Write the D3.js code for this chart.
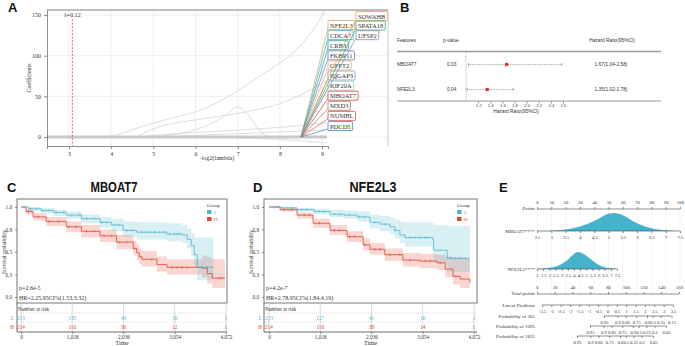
<!DOCTYPE html>
<html>
<head>
<meta charset="utf-8">
<script src="https://cdn.jsdelivr.net/npm/d3@7"></script>
<style>
body { margin: 0; background: #fff; }
svg { display: block; }
</style>
</head>
<body>
<svg id="fig" width="685" height="346"></svg>
<script>
// ---------- panel A: lasso paths ----------
const lassoXTicks = [3, 4, 5, 6, 7, 8, 9];
const lassoYTicks = [0, 50, 100, 150];
const lambdaX = 3.08;
const coefPath1 = [[4.0, 0], [4.5, 9], [5, 17], [5.5, 24], [6, 31], [6.5, 42], [7, 57], [7.5, 74], [8, 91], [8.5, 113], [9.1, 157]];
const coefPath2 = [[4.6, 0], [5, 10], [5.5, 17], [6, 21], [6.5, 25], [7, 29], [7.5, 34], [8, 41], [8.5, 52], [9.1, 68]];
const coefPath3 = [[5.0, 0], [5.5, 3], [6, 9], [6.4, 17], [6.7, 26], [7.0, 37], [7.2, 30], [7.4, 16], [7.6, 4], [7.8, 0]];
const coefPath4 = [[4.6, 0], [5.5, 4], [6.5, 7], [7.5, 10], [8.5, 14], [9.1, 18]];
const coefPath5 = [[5.0, 0], [6, 2], [7, 4], [8, 6], [9.1, 9]];
const coefPath6 = [[6.0, 0], [7, -1], [8, -3], [9.1, -7]];
const genesCol2 = ['SOWAHB', 'SPATA18', 'UFSP2'];
const genesCol1 = ['NFE2L3', 'CDCA7', 'CRB3', 'FKBP11', 'GFPT2', 'IQGAP3', 'KIF20A', 'MBOAT7', 'MXD3', 'NUMBL', 'PDCD5'];
const geneColors = {
    SOWAHB: '#e9a23b', SPATA18: '#3aa56a', UFSP2: '#7f83b8', NFE2L3: '#d8a46c',
    CDCA7: '#45a9bb', CRB3: '#1fa497', FKBP11: '#6c7ca8', GFPT2: '#e6aa7e',
    IQGAP3: '#8b97c0', KIF20A: '#97d2c4', MBOAT7: '#d2473a', MXD3: '#9e7a5e',
    NUMBL: '#d0584a', PDCD5: '#3a88c2'
};

// ---------- panel B: forest ----------
const forestGenes = ['MBOAT7', 'NFE2L3'];
const forestP = ['0.03', '0.04'];
const forestHR = [1.67, 1.35];
const forestLow = [1.04, 1.02];
const forestHigh = [2.58, 1.78];
const forestTicks = [1.2, 1.4, 1.6, 1.8, 2.0, 2.2, 2.4, 2.6];

// ---------- panels C, D: Kaplan-Meier ----------
const kmTicks = [0, 1018, 2036, 3054, 4072];
const survTicks = [0, 0.25, 0.5, 0.75, 1];
const survTickLabels = ['0.0', '0.3', '0.5', '0.8', '1.0'];

const mboatL_t = [0, 150, 400, 650, 900, 1200, 1570, 1800, 2030, 2300, 2900, 3200, 3300, 3380, 3440, 3500, 3820];
const mboatL_s = [1, 0.98, 0.96, 0.94, 0.91, 0.87, 0.83, 0.80, 0.74, 0.72, 0.70, 0.69, 0.64, 0.57, 0.47, 0.33, 0.33];
const mboatL_lo = [1, 0.96, 0.93, 0.90, 0.87, 0.82, 0.77, 0.73, 0.67, 0.64, 0.62, 0.60, 0.54, 0.45, 0.34, 0.19, 0.19];
const mboatL_hi = [1, 1, 0.99, 0.97, 0.95, 0.92, 0.89, 0.87, 0.84, 0.83, 0.82, 0.80, 0.76, 0.71, 0.66, 0.66, 0.66];
const mboatL_cens = [80, 180, 300, 420, 560, 700, 850, 1000, 1150, 1300, 1450, 1600, 1700, 1850, 1950, 2100, 2200, 2400, 2500, 2650, 2750, 2850, 2950, 3050, 3100, 3150, 3600, 3700, 3800];

const mboatH_t = [0, 100, 240, 500, 900, 1200, 1570, 1900, 2230, 2300, 2350, 2400, 2700, 2900, 3600, 3700, 3800, 4050];
const mboatH_s = [1, 0.95, 0.89, 0.84, 0.78, 0.73, 0.68, 0.61, 0.54, 0.49, 0.45, 0.42, 0.36, 0.33, 0.32, 0.26, 0.21, 0.21];
const mboatH_lo = [1, 0.92, 0.85, 0.79, 0.72, 0.66, 0.61, 0.53, 0.46, 0.41, 0.37, 0.34, 0.28, 0.25, 0.22, 0.15, 0.10, 0.10];
const mboatH_hi = [1, 0.98, 0.93, 0.89, 0.84, 0.80, 0.75, 0.69, 0.62, 0.58, 0.54, 0.51, 0.45, 0.42, 0.46, 0.44, 0.42, 0.42];
const mboatH_cens = [150, 350, 550, 750, 950, 1100, 1300, 1450, 1650, 1800, 1950, 2100, 2250, 2350, 2600, 3000, 3100, 3200, 3300, 3950, 4000];

const nfeL_t = [0, 250, 556, 900, 1212, 1500, 1750, 2006, 2200, 2400, 2500, 2600, 2700, 3250, 3270, 3530, 3540, 3990];
const nfeL_s = [1, 0.99, 0.97, 0.95, 0.92, 0.91, 0.89, 0.83, 0.81, 0.78, 0.74, 0.69, 0.66, 0.64, 0.52, 0.52, 0.43, 0.43];
const nfeL_lo = [1, 0.98, 0.95, 0.92, 0.89, 0.87, 0.84, 0.76, 0.73, 0.70, 0.65, 0.60, 0.56, 0.52, 0.38, 0.36, 0.28, 0.28];
const nfeL_hi = [1, 1, 0.99, 0.98, 0.97, 0.96, 0.95, 0.91, 0.90, 0.88, 0.86, 0.84, 0.83, 0.82, 0.80, 0.80, 0.79, 0.79];
const nfeL_cens = [100, 200, 350, 450, 650, 750, 900, 1000, 1100, 1300, 1400, 1600, 1800, 1900, 2100, 2300, 2500, 2800, 2900, 3000, 3100, 3150, 3600, 3700, 3800, 3900];

const nfeH_t = [0, 220, 556, 874, 1212, 1550, 1870, 2006, 2300, 2660, 3000, 3340, 3500, 3655, 3800, 3990];
const nfeH_s = [1, 0.97, 0.91, 0.82, 0.74, 0.67, 0.58, 0.53, 0.47, 0.41, 0.40, 0.38, 0.31, 0.23, 0.20, 0.16];
const nfeH_lo = [1, 0.95, 0.87, 0.77, 0.69, 0.61, 0.52, 0.47, 0.40, 0.34, 0.32, 0.30, 0.22, 0.14, 0.10, 0.06];
const nfeH_hi = [1, 0.99, 0.94, 0.87, 0.80, 0.73, 0.65, 0.60, 0.54, 0.49, 0.48, 0.47, 0.45, 0.44, 0.43, 0.43];
const nfeH_cens = [150, 300, 450, 700, 800, 1000, 1300, 1400, 1600, 1700, 1900, 2100, 2200, 2400, 2600, 2800, 3100, 3200, 3400, 3700];

const mboatRiskL = [213, 135, 43, 16, 1];
const mboatRiskH = [214, 110, 36, 12, 1];
const nfeRiskL = [213, 127, 41, 16, 1];
const nfeRiskH = [214, 118, 38, 14, 1];

// ---------- panel E: nomogram ----------
const pointTicks = d3.range(0, 101, 10);
const mboatTicks = [2.5, 3, 3.5, 4, 4.5, 5, 5.5, 6, 6.5, 7, 7.5];
const nfeTicks = [1, 1.5, 2, 2.5, 3, 3.5, 4, 4.5, 5, 5.5, 6, 6.5, 7, 7.5];
const totalTicks = [0, 20, 40, 60, 80, 100, 120, 140, 160];
const lpTicks = [-3.5, -3, -2.5, -2, -1.5, -1, -0.5, 0, 0.5, 1, 1.5, 2, 2.5, 3, 3.5];
const prob365 = [0.95, 0.9, 0.85, 0.75, 0.6, 0.5, 0.35, 0.15];
const prob1095 = [0.95, 0.9, 0.85, 0.75, 0.6, 0.5, 0.35, 0.2, 0.05];
const prob1825 = [0.95, 0.9, 0.85, 0.75, 0.6, 0.5, 0.35, 0.2, 0.05];
const baseSurv = [0.940, 0.877, 0.770];
const mboatDensX = [2.5, 3, 3.5, 4, 4.5, 5, 5.2, 5.5, 6, 6.5, 7, 7.5];
const mboatDensY = [0, 0.02, 0.09, 0.25, 0.55, 0.96, 1.0, 0.88, 0.43, 0.15, 0.04, 0];
const nfeDensX = [1, 1.5, 2, 2.5, 3, 3.5, 4, 4.3, 4.5, 5, 5.5, 6, 6.5, 7, 7.5];
const nfeDensY = [0.01, 0.03, 0.07, 0.15, 0.3, 0.55, 0.88, 1.0, 0.97, 0.78, 0.5, 0.25, 0.1, 0.04, 0.01];

const svg = d3.select('#fig');
const serif = '"Liberation Serif", "Times New Roman", serif';
const sans = '"Liberation Sans", Arial, sans-serif';

function txt(g, x, y, s, o = {}) {
    return g.append('text')
        .attr('x', x).attr('y', y).text(s)
        .attr('font-family', o.family || serif)
        .attr('font-size', o.size || 6)
        .attr('fill', o.fill || '#333')
        .attr('text-anchor', o.anchor || 'start')
        .attr('font-weight', o.weight || null)
        .attr('dominant-baseline', 'central');
}

function styleAxis(g, size, family, color) {
    g.selectAll('text').attr('font-family', family || serif).attr('font-size', size).attr('fill', color || '#333');
    g.selectAll('line').attr('stroke', '#444').attr('stroke-width', 0.6);
    g.selectAll('path').attr('stroke', '#444').attr('stroke-width', 0.6);
}

// panel letters
[['A', 8, 7], ['B', 400, 7], ['C', 7, 187], ['D', 253, 187], ['E', 499, 187]].forEach(d => {
    txt(svg, d[1], d[2], d[0], {family: sans, size: 13, weight: 'bold', fill: '#111'});
});

// ================= A =================
const gA = svg.append('g');
const ax = d3.scaleLinear().domain([2.48, 9.14]).range([47, 328]);
const ay = d3.scaleLinear().domain([-11.1, 156.2]).range([146, 10]);

gA.selectAll('.vgrid').data(lassoXTicks).join('line').attr('class', 'vgrid')
    .attr('x1', d => ax(d)).attr('x2', d => ax(d)).attr('y1', 10).attr('y2', 146)
    .attr('stroke', '#e8e8e8').attr('stroke-width', 0.7);
gA.selectAll('.hgrid').data(lassoYTicks).join('line').attr('class', 'hgrid')
    .attr('x1', 47).attr('x2', 388).attr('y1', d => ay(d)).attr('y2', d => ay(d))
    .attr('stroke', '#e8e8e8').attr('stroke-width', 0.7);
gA.append('line').attr('x1', 47).attr('x2', 388).attr('y1', 10).attr('y2', 10)
    .attr('stroke', '#bdbdbd').attr('stroke-width', 2);
gA.append('line').attr('x1', 388).attr('x2', 388).attr('y1', 10).attr('y2', 146)
    .attr('stroke', '#c8c8c8').attr('stroke-width', 1);

const coefLine = d3.line().x(d => ax(d[0])).y(d => ay(d[1])).curve(d3.curveMonotoneX);
[coefPath1, coefPath2, coefPath3, coefPath4, coefPath5, coefPath6].forEach(p => {
    gA.append('path').attr('d', coefLine(p)).attr('fill', 'none')
        .attr('stroke', '#d4d4d4').attr('stroke-width', 0.8);
});
gA.append('line').attr('x1', 47).attr('x2', 327).attr('y1', ay(0)).attr('y2', ay(0))
    .attr('stroke', '#c9c9c9').attr('stroke-width', 3);

// lambda
gA.append('line').attr('x1', ax(lambdaX)).attr('x2', ax(lambdaX)).attr('y1', 19).attr('y2', 146)
    .attr('stroke', '#d62728').attr('stroke-width', 0.7).attr('stroke-dasharray', '2,1.5');
txt(gA, ax(lambdaX), 15, 'λ=0.12', {size: 6, anchor: 'middle'});

// gene labels with leader lines
const origin = [ax(8.5), ay(0)];
function geneLabel(name, left, cy) {
    const col = geneColors[name];
    gA.append('line').attr('x1', origin[0]).attr('y1', origin[1]).attr('x2', left).attr('y2', cy + 3)
        .attr('stroke', col).attr('stroke-width', 0.7);
    const g = gA.append('g');
    const rect = g.append('rect');
    const t = txt(g, left + 2, cy, name, {size: 6.5, fill: '#333'});
    const w = t.node().getComputedTextLength();
    rect.attr('x', left).attr('y', cy - 4.5).attr('width', w + 4).attr('height', 9)
        .attr('rx', 1).attr('fill', '#fff').attr('stroke', col).attr('stroke-width', 0.8);
}
genesCol1.forEach((n, i) => geneLabel(n, 328, 25 + i * 10.1));
genesCol2.forEach((n, i) => geneLabel(n, 356, 16 + i * 9.6));

const axA = gA.append('g').attr('transform', 'translate(0,146)')
    .call(d3.axisBottom(ax).tickValues(lassoXTicks).tickSize(3).tickSizeOuter(3).tickFormat(d3.format('d')));
styleAxis(axA, 6);
const ayA = gA.append('g').attr('transform', 'translate(47,0)')
    .call(d3.axisLeft(ay).tickValues(lassoYTicks).tickSize(3).tickSizeOuter(0).tickFormat(d3.format('d')));
styleAxis(ayA, 6);
txt(gA, 217, 158, '-log2(lambda)', {size: 6, anchor: 'middle'});
txt(gA, 0, 0, 'Coefficients', {size: 6, anchor: 'middle'})
    .attr('transform', 'translate(29,78) rotate(-90)').attr('x', 0).attr('y', 0);

// ================= B =================
const gB = svg.append('g');
const bx = d3.scaleLinear().domain([1, 2.6]).range([466, 563]);
const rowY = [64.5, 89.5];
const fB = {family: sans, size: 4.8, fill: '#333'};
txt(gB, 397, 40, 'Features', fB);
txt(gB, 443, 40, 'p-value', fB);
txt(gB, 612, 40, 'Hazard Ratio(95%CI)', Object.assign({}, fB, {anchor: 'middle'}));
gB.append('line').attr('x1', 397).attr('x2', 661).attr('y1', 51.5).attr('y2', 51.5).attr('stroke', '#9a9a9a').attr('stroke-width', 1.5);
gB.append('line').attr('x1', 397).attr('x2', 661).attr('y1', 101).attr('y2', 101).attr('stroke', '#9a9a9a').attr('stroke-width', 1.2);
gB.append('line').attr('x1', bx(1)).attr('x2', bx(1)).attr('y1', 52).attr('y2', 101)
    .attr('stroke', '#666').attr('stroke-width', 0.5).attr('stroke-dasharray', '1,1');
forestGenes.forEach((g, i) => {
    const y = rowY[i];
    txt(gB, 397, y, g, fB);
    txt(gB, 447, y, forestP[i], fB);
    txt(gB, 611, y, forestHR[i].toFixed(2) + '(' + forestLow[i].toFixed(2) + '-' + forestHigh[i].toFixed(2) + ')',
        Object.assign({}, fB, {anchor: 'middle'}));
    gB.append('line').attr('x1', bx(forestLow[i])).attr('x2', bx(forestHigh[i])).attr('y1', y).attr('y2', y)
        .attr('stroke', '#555').attr('stroke-width', 0.5).attr('stroke-dasharray', '1,0.8');
    [forestLow[i], forestHigh[i]].forEach(v => {
        gB.append('line').attr('x1', bx(v)).attr('x2', bx(v)).attr('y1', y - 1.5).attr('y2', y + 1.5)
            .attr('stroke', '#555').attr('stroke-width', 0.5);
    });
    gB.append('rect').attr('x', bx(forestHR[i]) - 1.6).attr('y', y - 1.6).attr('width', 3.2).attr('height', 3.2)
        .attr('fill', '#e8321e');
});
const bAxis = gB.append('g').attr('transform', 'translate(0,101.5)')
    .call(d3.axisBottom(bx).tickValues(forestTicks).tickSize(2).tickFormat(d3.format('.1f')));
bAxis.select('.domain').remove();
styleAxis(bAxis, 4.3, sans, '#444');
bAxis.selectAll('text').attr('dy', '0.2em');
txt(gB, 516, 111.5, 'Hazard Ratio(95%CI)', Object.assign({}, fB, {anchor: 'middle'}));

// ================= C, D =================
const cyan = '#4cb6cf';
const red = '#e5432d';

function drawKM(o) {
    const g = svg.append('g');
    const kx = d3.scaleLinear().domain([0, 4072]).range([o.x0, o.x1]);
    const ky = d3.scaleLinear().domain([0, 1]).range([297, 207]);

    txt(g, o.titleX, 186, o.title, {family: sans, size: 15, weight: 'bold', anchor: 'middle', fill: '#111'})
        .attr('textLength', 47).attr('lengthAdjust', 'spacingAndGlyphs');

    o.curves.forEach(c => {
        const idx = d3.range(c.t.length);
        const area = d3.area().curve(d3.curveStepAfter)
            .x(i => kx(c.t[i])).y0(i => ky(c.lo[i])).y1(i => ky(c.hi[i]));
        g.append('path').attr('d', area(idx)).attr('fill', c.color).attr('fill-opacity', 0.22);
    });
    o.curves.forEach(c => {
        const idx = d3.range(c.t.length);
        const line = d3.line().curve(d3.curveStepAfter).x(i => kx(c.t[i])).y(i => ky(c.s[i]));
        g.append('path').attr('d', line(idx)).attr('fill', 'none').attr('stroke', c.color).attr('stroke-width', 0.8);
        c.cens.forEach(t => {
            const j = d3.bisectRight(c.t, t) - 1;
            const yy = ky(c.s[Math.max(j, 0)]);
            g.append('line').attr('x1', kx(t)).attr('x2', kx(t)).attr('y1', yy - 1.3).attr('y2', yy + 1.3)
                .attr('stroke', c.color).attr('stroke-width', 0.6);
        });
    });

    g.append('rect').attr('x', o.left).attr('y', 199).attr('width', o.right - o.left).attr('height', 104)
        .attr('fill', 'none').attr('stroke', '#555').attr('stroke-width', 0.8);

    const yA = g.append('g').attr('transform', `translate(${o.left},0)`)
        .call(d3.axisLeft(ky).tickValues(survTicks).tickSize(2).tickFormat((d, i) => survTickLabels[i]));
    yA.select('.domain').remove();
    styleAxis(yA, 5.2);
    txt(g, 0, 0, 'Survival probability', {size: 5.5, anchor: 'middle'})
        .attr('transform', `translate(${o.left - 13},252) rotate(-90)`);

    // legend
    txt(g, o.right - 20, 205, 'Group', {size: 5});
    [[cyan, 'L', 212], [red, 'H', 219]].forEach(d => {
        g.append('rect').attr('x', o.right - 20).attr('y', d[2] - 2).attr('width', 4.5).attr('height', 4).attr('fill', d[0]);
        txt(g, o.right - 13, d[2], d[1], {size: 5, fill: d[0]});
    });

    txt(g, o.left + 2, 288, o.p, {size: 6});
    txt(g, o.left + 2, 297.5, o.hr, {size: 6});

    // risk table
    g.selectAll('.rv').data(kmTicks).join('line').attr('class', 'rv')
        .attr('x1', d => kx(d)).attr('x2', d => kx(d)).attr('y1', 303).attr('y2', 332)
        .attr('stroke', '#c4c4c4').attr('stroke-width', 0.6);
    [313, 322].forEach(y => g.append('line').attr('x1', o.left).attr('x2', o.right).attr('y1', y).attr('y2', y)
        .attr('stroke', '#bbb').attr('stroke-width', 0.5).attr('stroke-dasharray', '1,1'));
    g.append('line').attr('x1', o.left).attr('x2', o.left).attr('y1', 303).attr('y2', 332).attr('stroke', '#444').attr('stroke-width', 0.8);
    txt(g, o.left + 1, 308.5, 'Number at risk', {size: 5.2});
    [[o.riskL, cyan, 'L', 317.5], [o.riskH, red, 'H', 326.5]].forEach(r => {
        txt(g, kx(0) - 7, r[3], r[2], {size: 5.2, fill: r[1], anchor: 'end'});
        r[0].forEach((v, i) => txt(g, kx(kmTicks[i]), r[3], v, {size: 5.2, fill: r[1], anchor: 'middle'}));
    });
    const tA = g.append('g').attr('transform', 'translate(0,332)')
        .call(d3.axisBottom(kx).tickValues(kmTicks).tickSize(2).tickPadding(1).tickFormat(d3.format(',')));
    tA.select('.domain').remove();
    g.append('line').attr('x1', o.left).attr('x2', o.right).attr('y1', 332).attr('y2', 332).attr('stroke', '#444').attr('stroke-width', 0.8);
    styleAxis(tA, 5.3);
    txt(g, (o.left + o.right) / 2, 342.5, 'Time', {size: 6.5, anchor: 'middle'});
}

drawKM({
    title: 'MBOAT7', titleX: 114, left: 17, right: 227, x0: 21, x1: 226,
    p: 'p=2.6e-5', hr: 'HR=2.25,95CI%(1.53,3.32)',
    riskL: mboatRiskL, riskH: mboatRiskH,
    curves: [
        {t: mboatH_t, s: mboatH_s, lo: mboatH_lo, hi: mboatH_hi, cens: mboatH_cens, color: red},
        {t: mboatL_t, s: mboatL_s, lo: mboatL_lo, hi: mboatL_hi, cens: mboatL_cens, color: cyan}
    ]
});
drawKM({
    title: 'NFE2L3', titleX: 373, left: 264, right: 477, x0: 269, x1: 474,
    p: 'p=4.2e-7', hr: 'HR=2.78,95CI%(1.84,4.19)',
    riskL: nfeRiskL, riskH: nfeRiskH,
    curves: [
        {t: nfeH_t, s: nfeH_s, lo: nfeH_lo, hi: nfeH_hi, cens: nfeH_cens, color: red},
        {t: nfeL_t, s: nfeL_s, lo: nfeL_lo, hi: nfeL_hi, cens: nfeL_cens, color: cyan}
    ]
});

// ================= E =================
const gE = svg.append('g');
const fE = {size: 5, fill: '#333'};
const pts = d3.scaleLinear().domain([0, 100]).range([537, 680]);
const mbx = d3.scaleLinear().domain([2.5, 7.5]).range([537, 680]);
const nfx = d3.scaleLinear().domain([1, 7.5]).range([537, 617]);
const tot = d3.scaleLinear().domain([0, 160]).range([537, 679]);
const lp = d3.scaleLinear().domain([-3.5, 3.5]).range([542, 673]);
const cloglog = p => Math.log(-Math.log(p));

gE.selectAll('.eg').data(pointTicks).join('line').attr('class', 'eg')
    .attr('x1', d => pts(d)).attr('x2', d => pts(d)).attr('y1', 209).attr('y2', 294)
    .attr('stroke', '#ececec').attr('stroke-width', 0.6);

// densities
const dy1 = d3.scaleLinear().domain([0, 1]).range([231, 213]);
const dy2 = d3.scaleLinear().domain([0, 1]).range([269, 252]);
gE.append('path').attr('fill', '#45b3cc')
    .attr('d', d3.area().curve(d3.curveMonotoneX).x((d, i) => mbx(mboatDensX[i])).y0(231).y1(d => dy1(d))(mboatDensY));
gE.append('path').attr('fill', '#45b3cc')
    .attr('d', d3.area().curve(d3.curveMonotoneX).x((d, i) => nfx(nfeDensX[i])).y0(269).y1(d => dy2(d))(nfeDensY));

function nomoAxis(scale, ticks, y, top, fmt) {
    const a = top ? d3.axisTop(scale) : d3.axisBottom(scale);
    const g = gE.append('g').attr('transform', `translate(0,${y})`)
        .call(a.tickValues(ticks).tickSize(2).tickSizeOuter(0).tickFormat(fmt || (d => d)));
    g.select('.domain').remove();
    g.append('line').attr('x1', scale(ticks[0])).attr('x2', scale(ticks[ticks.length - 1]))
        .attr('stroke', '#444').attr('stroke-width', 0.6);
    styleAxis(g, 4.6);
    g.selectAll('text').attr('dy', top ? '0em' : '0.55em');
}
nomoAxis(pts, pointTicks, 209, true);
nomoAxis(mbx, mboatTicks, 231, false);
nomoAxis(nfx, nfeTicks, 269, false);
nomoAxis(tot, totalTicks, 294, true);
nomoAxis(lp, lpTicks, 305, false);
[prob365, prob1095, prob1825].forEach((probs, k) => {
    const c = cloglog(baseSurv[k]);
    const s = d3.scaleLinear().domain([-3.5 + c, 3.5 + c]).range([542, 673]);
    nomoAxis(s, probs.map(cloglog), 316 + k * 10, false, (d, i) => probs[i]);
});

[['Points', 208], ['MBOAT7****', 231], ['NFE2L3****', 269], ['Total points', 293.5], ['Linear Predictor', 305],
 ['Probability of 365', 316], ['Probability of 1095', 326], ['Probability of 1825', 336]].forEach(d => {
    txt(gE, 535, d[1], d[0], Object.assign({}, fE, {anchor: 'end'}));
});
</script>
</body>
</html>
